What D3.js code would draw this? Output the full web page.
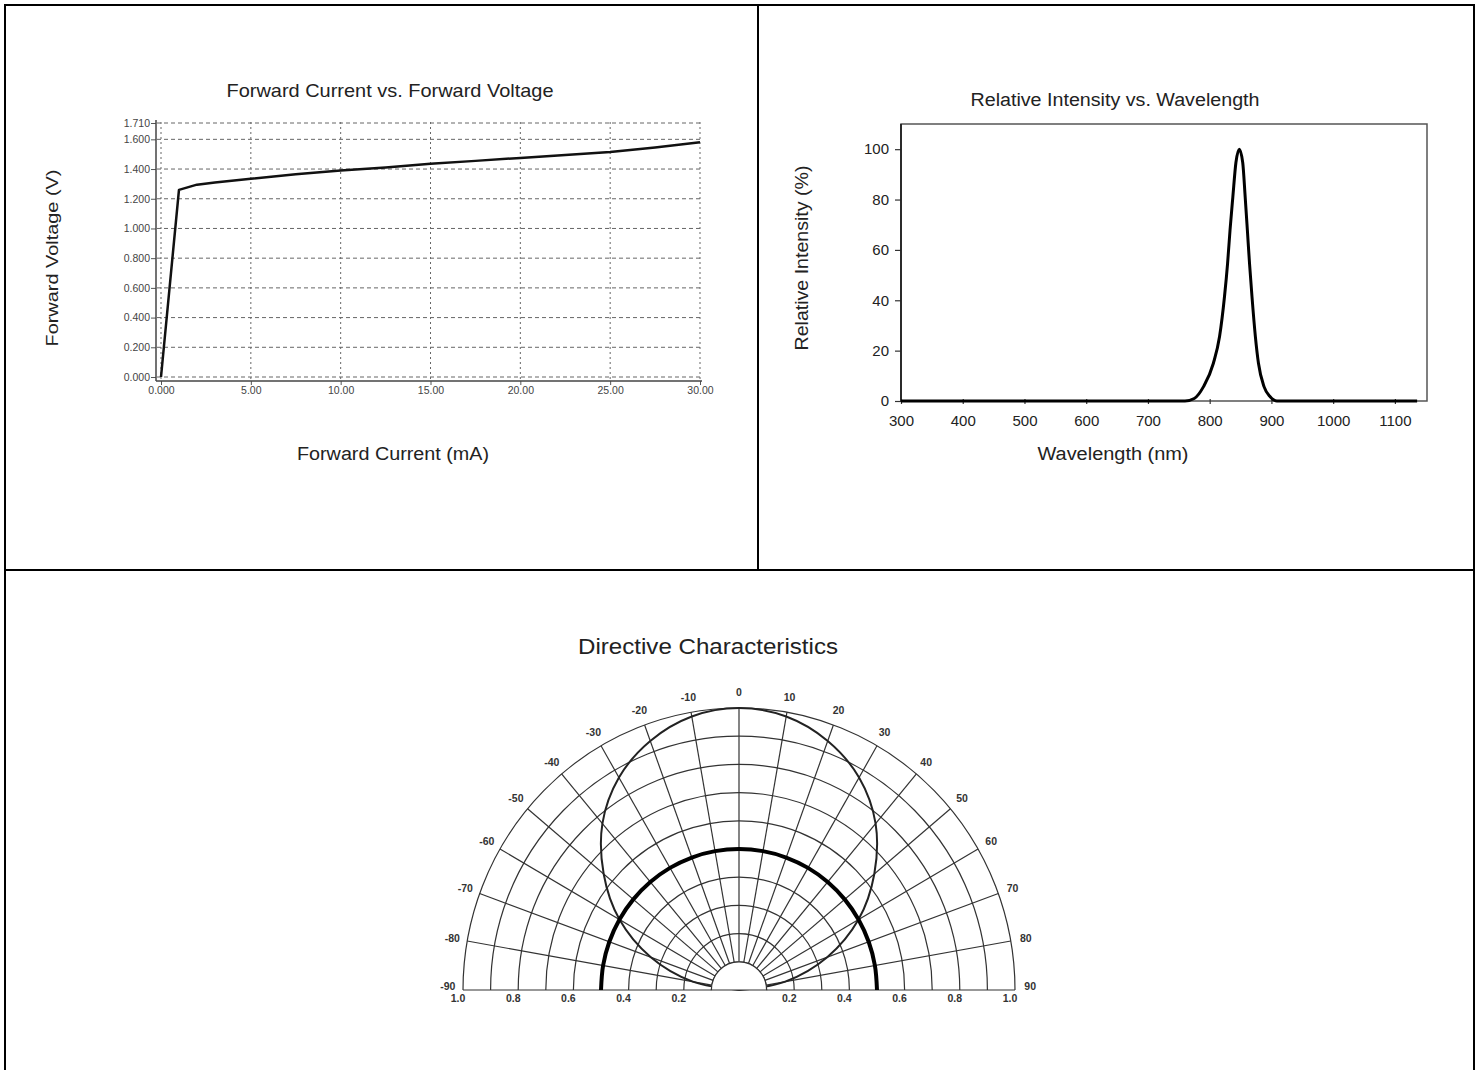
<!DOCTYPE html>
<html>
<head>
<meta charset="utf-8">
<script src="https://cdn.jsdelivr.net/npm/d3@7"></script>
<style>
  body { margin: 0; background: #fff; }
  text { font-family: "Liberation Sans", Arial, sans-serif; }
</style>
</head>
<body>
<div class="chart"></div>
<script>
// forward current vs forward voltage
const ivCurrent = [0, 1.0, 2.0, 3.0, 5.0, 7.5, 10.0, 12.5, 15.0, 17.5, 20.0, 22.5, 25.0, 27.5, 30.0];
const ivVoltage = [0, 1.26, 1.295, 1.31, 1.335, 1.365, 1.39, 1.41, 1.435, 1.455, 1.475, 1.495, 1.515, 1.545, 1.58];
const ivXTicks = [0, 5, 10, 15, 20, 25, 30];
const ivXTickLabels = ['0.000', '5.00', '10.00', '15.00', '20.00', '25.00', '30.00'];
const ivYTicks = [0, 0.2, 0.4, 0.6, 0.8, 1.0, 1.2, 1.4, 1.6, 1.71];
const ivYTickLabels = ['0.000', '0.200', '0.400', '0.600', '0.800', '1.000', '1.200', '1.400', '1.600', '1.710'];

// relative intensity vs wavelength
const specWavelength = [300, 760, 775, 790, 806, 816, 824, 829, 833, 837.5, 842.5, 848, 853.5, 857.5, 861, 864.5, 868.5, 874, 879, 888, 898, 909, 1136];
const specIntensity  = [0, 0, 1, 5.7, 15, 25.6, 41.5, 54.7, 68, 81, 94.7, 100, 94.7, 81, 68, 54.7, 41.5, 25.6, 15, 5.7, 1.7, 0, 0];
const specXTicks = [300, 400, 500, 600, 700, 800, 900, 1000, 1100];
const specYTicks = [0, 20, 40, 60, 80, 100];

// directive characteristics
const polarAngles = [-90, -80, -70, -60, -50, -40, -30, -20, -10, 0, 10, 20, 30, 40, 50, 60, 70, 80, 90];
const patternNarrow = [0.0, 0.17, 0.34, 0.5, 0.64, 0.77, 0.87, 0.94, 0.985, 1.0, 0.985, 0.94, 0.87, 0.77, 0.64, 0.5, 0.34, 0.17, 0.0];
const patternWide = [0.5, 0.5, 0.5, 0.5, 0.5, 0.5, 0.5, 0.5, 0.5, 0.5, 0.5, 0.5, 0.5, 0.5, 0.5, 0.5, 0.5, 0.5, 0.5];
const ringValues = [0.1, 0.2, 0.3, 0.4, 0.5, 0.6, 0.7, 0.8, 0.9, 1.0];
const ringTicks = [0.2, 0.4, 0.6, 0.8, 1.0];
const ringTickLabels = ['0.2', '0.4', '0.6', '0.8', '1.0'];

const svg = d3.select('.chart')
              .append('svg')
              .attr('width', 1481)
              .attr('height', 1070);

// table borders
const borders = [
  [4, 5, 1475, 5], [5, 4, 5, 1070], [1474, 4, 1474, 1070],
  [5, 570, 1474, 570], [758, 5, 758, 570]
];
svg.selectAll('line.border')
   .data(borders)
   .enter()
   .append('line')
   .attr('class', 'border')
   .attr('x1', d=>d[0]).attr('y1', d=>d[1])
   .attr('x2', d=>d[2]).attr('y2', d=>d[3])
   .attr('stroke', '#000')
   .attr('stroke-width', 2);

function label(g, txt, x, y, size, len, rotate) {
  const t = g.append('text')
             .attr('x', x).attr('y', y)
             .attr('font-size', size)
             .attr('fill', '#222')
             .attr('text-anchor', 'middle')
             .attr('textLength', len)
             .attr('lengthAdjust', 'spacingAndGlyphs')
             .text(txt);
  if (rotate) t.attr('transform', 'rotate(-90,' + x + ',' + y + ')');
  return t;
}

// ---------- panel 1: forward current vs forward voltage ----------
{
  const g = svg.append('g');
  const xScale = d3.scaleLinear().domain([0, 30]).range([161, 700]);
  const yScale = d3.scaleLinear().domain([0, 1.71]).range([377, 123]);

  label(g, 'Forward Current vs. Forward Voltage', 390, 97, 19, 327);
  label(g, 'Forward Voltage (V)', 58, 258, 17, 177, true);
  label(g, 'Forward Current (mA)', 393, 460, 18, 192);

  // dashed grid
  g.selectAll('line.hgrid')
   .data(ivYTicks)
   .enter()
   .append('line')
   .attr('x1', 157).attr('x2', 701)
   .attr('y1', d=>yScale(d)).attr('y2', d=>yScale(d))
   .attr('stroke', '#666').attr('stroke-width', 1)
   .attr('stroke-dasharray', '4,3');
  g.selectAll('line.vgrid')
   .data(ivXTicks)
   .enter()
   .append('line')
   .attr('x1', d=>xScale(d)).attr('x2', d=>xScale(d))
   .attr('y1', 122).attr('y2', 381)
   .attr('stroke', '#666').attr('stroke-width', 1)
   .attr('stroke-dasharray', '2,3');

  // axes
  const yAxis = d3.axisLeft(yScale)
                  .tickValues(ivYTicks)
                  .tickFormat((d, i)=>ivYTickLabels[i])
                  .tickSize(5)
                  .tickPadding(1);
  const ya = g.append('g')
              .attr('transform', 'translate(156,0)')
              .call(yAxis);
  const xAxis = d3.axisBottom(xScale)
                  .tickValues(ivXTicks)
                  .tickFormat((d, i)=>ivXTickLabels[i])
                  .tickSize(4)
                  .tickPadding(2);
  const xa = g.append('g')
              .attr('transform', 'translate(0,381)')
              .call(xAxis);
  [ya, xa].forEach(a=>{
    a.select('.domain').remove();
    a.selectAll('line').attr('stroke', '#555');
    a.selectAll('text').attr('font-size', 10.5).attr('fill', '#444')
     .attr('font-family', '"Liberation Sans", Arial, sans-serif');
  });
  g.append('line').attr('x1', 156).attr('x2', 156).attr('y1', 120).attr('y2', 381)
   .attr('stroke', '#444').attr('stroke-width', 1.5);
  g.append('line').attr('x1', 156).attr('x2', 702).attr('y1', 381).attr('y2', 381)
   .attr('stroke', '#444').attr('stroke-width', 1.5);

  const line = d3.line()
                 .x((d, i)=>xScale(ivCurrent[i]))
                 .y(d=>yScale(d));
  g.append('path')
   .datum(ivVoltage)
   .attr('d', line)
   .attr('fill', 'none')
   .attr('stroke', '#111')
   .attr('stroke-width', 2.5)
   .attr('stroke-linejoin', 'round');
}

// ---------- panel 2: relative intensity vs wavelength ----------
{
  const g = svg.append('g');
  const xScale = d3.scaleLinear().domain([300, 1152]).range([901, 1427]);
  const yScale = d3.scaleLinear().domain([0, 110]).range([401, 124]);

  label(g, 'Relative Intensity vs. Wavelength', 1115, 106, 18, 289);
  label(g, 'Relative Intensity (%)', 808, 258, 18, 185, true);
  label(g, 'Wavelength (nm)', 1113, 460, 18, 151);

  g.append('rect')
   .attr('x', xScale(300)).attr('y', yScale(110))
   .attr('width', xScale(1152) - xScale(300))
   .attr('height', yScale(0) - yScale(110))
   .attr('fill', 'none')
   .attr('stroke', '#555')
   .attr('stroke-width', 1.5);

  const xAxis = d3.axisBottom(xScale).tickValues(specXTicks).tickFormat(d3.format('d'))
                  .tickSize(5).tickPadding(9);
  const yAxis = d3.axisLeft(yScale).tickValues(specYTicks).tickFormat(d3.format('d'))
                  .tickSize(6).tickPadding(6);
  const xa = g.append('g').attr('transform', 'translate(0,401)').call(xAxis);
  const ya = g.append('g').attr('transform', 'translate(901,0)').call(yAxis);
  xa.selectAll('line').attr('transform', 'translate(0,-2)');
  [xa, ya].forEach(a=>{
    a.select('.domain').remove();
    a.selectAll('line').attr('stroke', '#333').attr('stroke-width', 1.2);
    a.selectAll('text').attr('font-size', 15).attr('fill', '#222')
     .attr('font-family', '"Liberation Sans", Arial, sans-serif');
  });
  g.append('line').attr('x1', 901).attr('x2', 901).attr('y1', 124).attr('y2', 402)
   .attr('stroke', '#222').attr('stroke-width', 1.8);

  const line = d3.line()
                 .x((d, i)=>xScale(specWavelength[i]))
                 .y(d=>yScale(d))
                 .curve(d3.curveMonotoneX);
  g.append('path')
   .datum(specIntensity)
   .attr('d', line)
   .attr('fill', 'none')
   .attr('stroke', '#000')
   .attr('stroke-width', 3)
   .attr('stroke-linejoin', 'round');
}

// ---------- panel 3: directive characteristics ----------
{
  const cx = 739, cy = 990, rx = 276, ry = 282;
  const g = svg.append('g');
  label(g, 'Directive Characteristics', 708, 654, 22, 260);

  const rScale = d3.scaleLinear().domain([0, 1]).range([0, rx]);
  const rad = d=>d * Math.PI / 180;
  const plot = g.append('g')
                .attr('transform', 'translate(' + cx + ',' + cy + ') scale(1,' + (ry / rx) + ')');

  const arc = d3.arc().startAngle(-Math.PI / 2).endAngle(Math.PI / 2);
  plot.selectAll('path.ring')
      .data(ringValues)
      .enter()
      .append('path')
      .attr('d', d=>arc({innerRadius: rScale(d), outerRadius: rScale(d)}))
      .attr('fill', 'none')
      .attr('stroke', '#333')
      .attr('stroke-width', 1.2)
      .attr('vector-effect', 'non-scaling-stroke');

  plot.selectAll('line.spoke')
      .data(polarAngles)
      .enter()
      .append('line')
      .attr('x1', d=>rScale(0.1) * Math.sin(rad(d)))
      .attr('y1', d=>-rScale(0.1) * Math.cos(rad(d)))
      .attr('x2', d=>rScale(1) * Math.sin(rad(d)))
      .attr('y2', d=>-rScale(1) * Math.cos(rad(d)))
      .attr('stroke', '#333')
      .attr('stroke-width', 1.2)
      .attr('vector-effect', 'non-scaling-stroke');

  const radial = d3.lineRadial()
                   .angle((d, i)=>rad(polarAngles[i]))
                   .radius(d=>rScale(d))
                   .curve(d3.curveCardinal);
  plot.append('path')
      .datum(patternNarrow)
      .attr('d', radial)
      .attr('fill', 'none')
      .attr('stroke', '#222')
      .attr('stroke-width', 2)
      .attr('vector-effect', 'non-scaling-stroke');
  plot.append('path')
      .datum(patternWide)
      .attr('d', radial)
      .attr('fill', 'none')
      .attr('stroke', '#000')
      .attr('stroke-width', 4)
      .attr('vector-effect', 'non-scaling-stroke');

  // blank centre
  plot.append('path')
      .attr('d', d3.arc().innerRadius(0).outerRadius(rScale(0.1))
                   .startAngle(-Math.PI / 2).endAngle(Math.PI / 2)())
      .attr('fill', '#fff')
      .attr('stroke', '#333')
      .attr('stroke-width', 1.2)
      .attr('vector-effect', 'non-scaling-stroke');

  const labelFont = '"Liberation Mono", "DejaVu Sans Mono", monospace';
  g.selectAll('text.ang')
   .data(polarAngles)
   .enter()
   .append('text')
   .attr('x', d=>cx + 1.055 * rx * Math.sin(rad(d)))
   .attr('y', d=>cy - 1.055 * ry * Math.cos(rad(d)) - (Math.abs(d) === 90 ? 4 : 0))
   .attr('dy', '0.35em')
   .attr('text-anchor', 'middle')
   .attr('font-family', labelFont)
   .attr('font-weight', 'bold')
   .attr('font-size', 10.5)
   .attr('fill', '#333')
   .text(d=>String(d));

  const sides = [-1, 1];
  sides.forEach(s=>{
    g.selectAll('text.rt' + (s > 0 ? 'r' : 'l'))
     .data(ringTicks)
     .enter()
     .append('text')
     .attr('x', d=>cx + s * rScale(d) - 5)
     .attr('y', cy + 12)
     .attr('text-anchor', 'middle')
     .attr('font-family', labelFont)
     .attr('font-weight', 'bold')
     .attr('font-size', 10.5)
     .attr('fill', '#333')
     .text((d, i)=>ringTickLabels[i]);
  });
}
</script>
</body>
</html>
